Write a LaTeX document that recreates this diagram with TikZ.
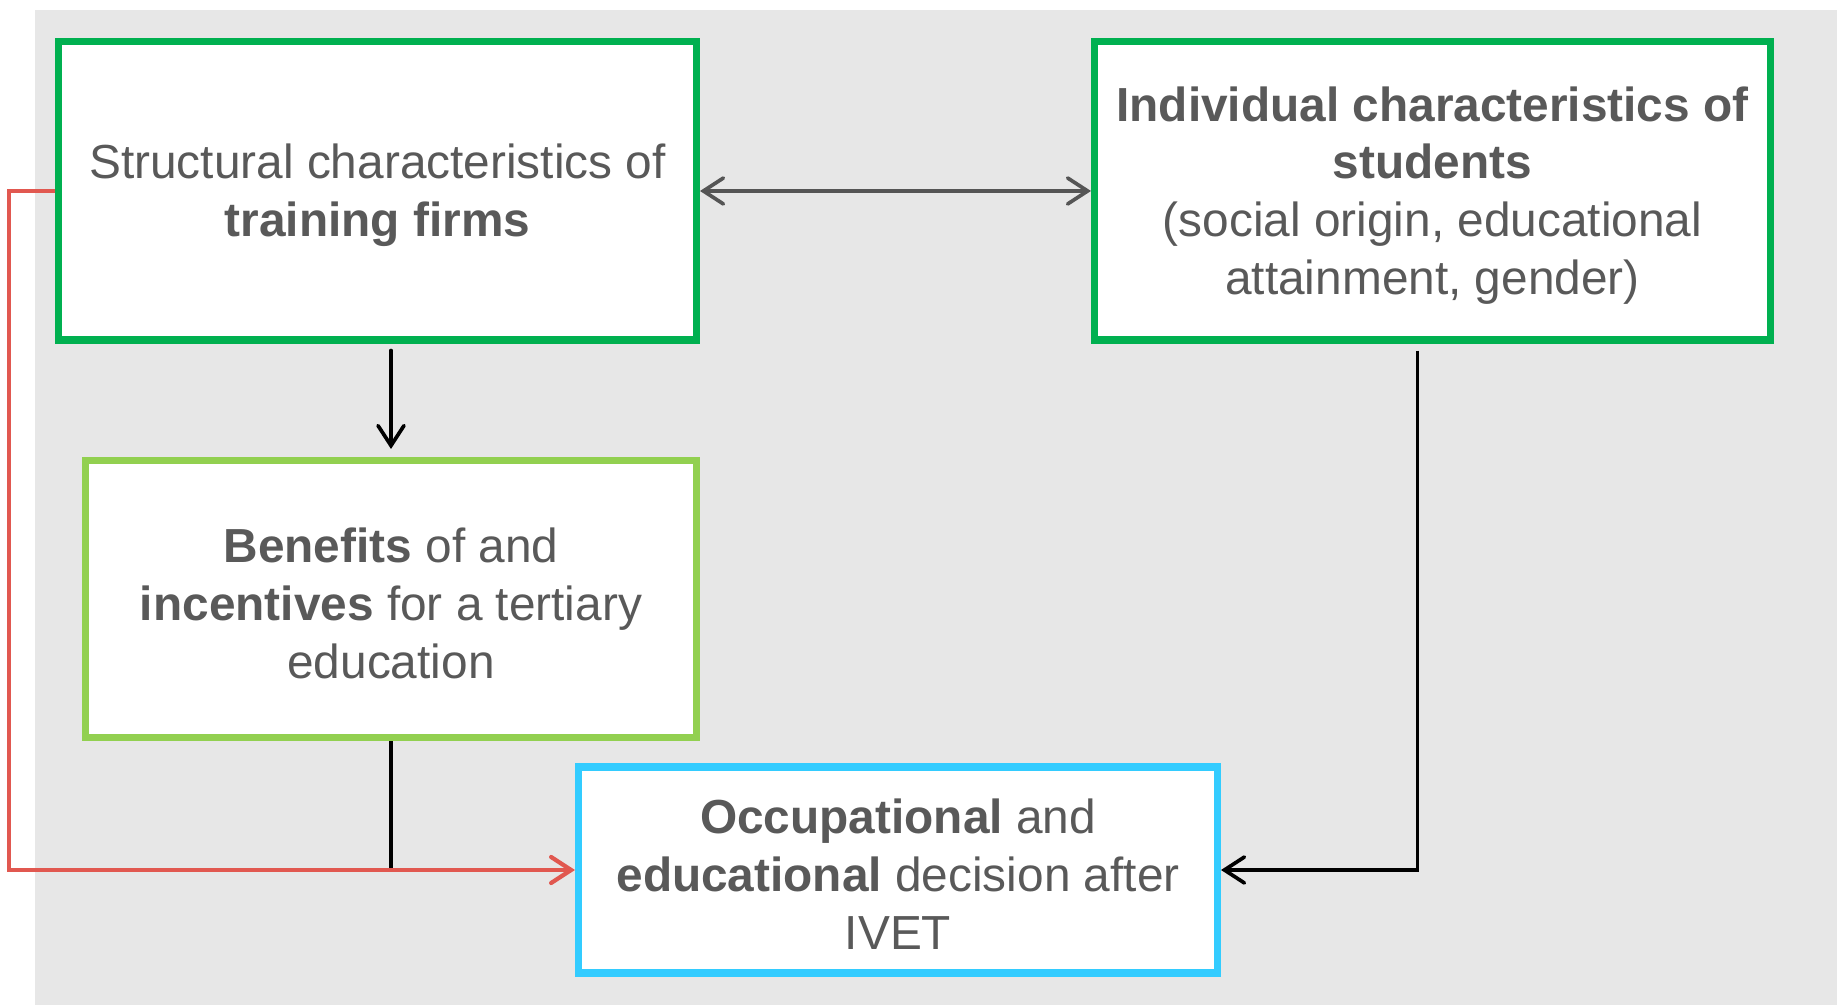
\documentclass[tikz,border=0pt]{standalone}
\usepackage{fontspec}
\setmainfont{Liberation Sans}
\usepackage{xcolor}
\usepackage{tikz}
\usetikzlibrary{arrows.meta,positioning}
\definecolor{darkgreen}{RGB}{0,176,80}
\definecolor{lightgreen}{RGB}{146,208,80}
\definecolor{skyblue}{RGB}{51,204,255}
\definecolor{linered}{RGB}{225,88,80}
\definecolor{textgray}{RGB}{89,89,89}
\definecolor{arrowgray}{RGB}{85,85,85}
\definecolor{bggray}{RGB}{231,231,231}
\newcommand{\topstrut}{\rule{0pt}{12.5pt}}

\begin{document}
\begin{tikzpicture}[
        box/.style={draw, line width=2pt, fill=white, align=center, text=textgray, inner sep=2pt, font=\fontsize{13.6}{16.5}\selectfont},
        link/.style={line width=1.05pt, line cap=round, -{Straight Barb[length=2mm,width=2.6mm,line cap=round]}}
    ]
            \useasboundingbox (0,0) rectangle (18.37,10.05);
            \fill[bggray] (0.35,0) rectangle (18.37,9.95);

            % Top row
            \node[box, draw=darkgreen, minimum width=6.38cm, minimum height=2.98cm] (firms) at (3.775,8.14) {\topstrut Structural characteristics of\\\textbf{training firms}};
            \node[box, draw=darkgreen, minimum width=6.76cm, minimum height=2.98cm] (students) at (14.325,8.14) {\topstrut\textbf{Individual characteristics of}\\\textbf{students}\\(social origin, educational\\attainment, gender)};

            % Middle and bottom
            \node[box, draw=lightgreen, minimum width=6.11cm, minimum height=2.77cm] (benefits) at (3.91,4.06) {\topstrut\textbf{Benefits} of and\\\textbf{incentives} for a tertiary\\education};
            \node[box, draw=skyblue, minimum width=6.39cm, minimum height=2.06cm] (decision) at (8.98,1.35) {\topstrut\textbf{Occupational} and\\\textbf{educational} decision after\\IVET};

            % Connectors
            \draw[link, arrowgray, {Straight Barb[length=2mm,width=2.6mm,line cap=round]}-{Straight Barb[length=2mm,width=2.6mm,line cap=round]}] (firms.east) -- (students.west);
            \draw[link, shorten <=0.07cm, shorten >=0.08cm] (firms.south -| benefits.north) -- (benefits.north);
            \coordinate (merge) at (benefits.south |- decision.west);
            \draw[line width=1.05pt] (benefits.south) -- (merge);
            \draw[link, linered, line width=1.2pt, line cap=butt] (firms.west) -- ++(-0.46,0) |- (decision.west);
            \coordinate (drop) at ([xshift=-0.15cm]students.south);
            \draw[link, line cap=butt, shorten <=0.07cm] (drop) |- (decision.east);
        \end{tikzpicture}
\end{document}
